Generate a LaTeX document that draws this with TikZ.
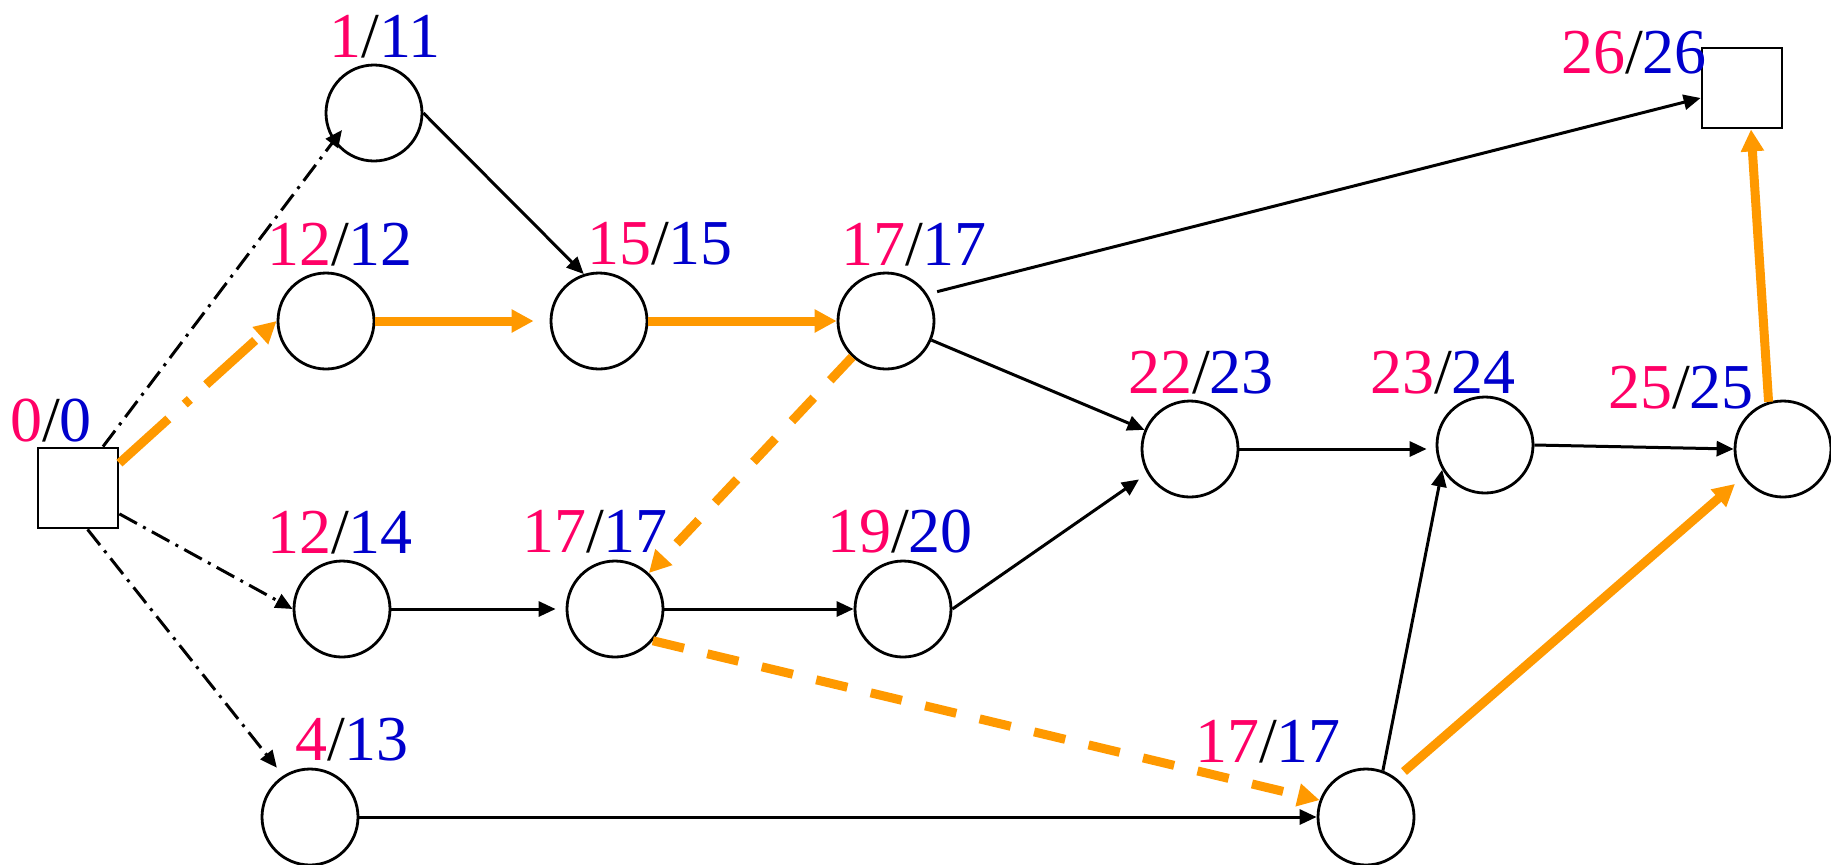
\documentclass[tikz,border=0pt]{standalone}
\usepackage{fontspec}
\setmainfont{Liberation Serif}
\usepackage{tikz}
\usetikzlibrary{arrows.meta,calc}
\definecolor{early}{HTML}{FF0066}
\definecolor{late}{HTML}{0000CC}
\definecolor{critorange}{HTML}{FF9900}
\newcommand{\evt}[2]{\textcolor{early}{#1}/\textcolor{late}{#2}}

\begin{document}
\begin{tikzpicture}[x=0.5pt,y=-0.5pt,
event/.style={circle,draw,line width=1.4pt,minimum size=48pt,inner sep=0pt},
term/.style={rectangle,draw,line width=1.4pt,minimum size=40pt,inner sep=0pt},
times/.style={anchor=base,inner sep=0pt,font=\fontsize{32}{38}\selectfont},
act/.style={line width=1.5pt,-{Triangle[length=8.5pt,width=7.5pt]}},
dum/.style={act,dash pattern=on 10pt off 3.5pt on 1.5pt off 3.5pt},
critact/.style={line width=4.5pt,critorange,-{Triangle[length=11pt,width=11pt]}},
critdum/.style={critact,dash pattern=on 33pt off 11pt on 3.5pt off 11pt},
critdash/.style={critact,dash pattern=on 16pt off 12pt}]
\useasboundingbox (0,0) rectangle (1831,864);
% events
\node[term]  (s)   at (78,488)   {};
\node[term]  (e)   at (1742,88)  {};
\node[event] (n1)  at (374,113)  {};
\node[event] (n12) at (326,321)  {};
\node[event] (n15) at (599,321)  {};
\node[event] (t17) at (886,321)  {};
\node[event] (n22) at (1190,449) {};
\node[event] (n23) at (1485,445) {};
\node[event] (n25) at (1783,449) {};
\node[event] (n14) at (342,609)  {};
\node[event] (m17) at (615,609)  {};
\node[event] (n19) at (903,609)  {};
\node[event] (n4)  at (310,817)  {};
\node[event] (b17) at (1366,817) {};
% early/late times
\node[times] (ls)   at (51,441)   {\evt{0}{0}};
\node[times] (le)   at (1634,73)  {\evt{26}{26}};
\node[times] (l1)   at (385,57)   {\evt{1}{11}};
\node[times] (l12)  at (340,265)  {\evt{12}{12}};
\node[times] (l15)  at (660,264)  {\evt{15}{15}};
\node[times] (lt17) at (914,265)  {\evt{17}{17}};
\node[times] (l22)  at (1201,393) {\evt{22}{23}};
\node[times] (l23)  at (1443,393) {\evt{23}{24}};
\node[times] (l25)  at (1681,408) {\evt{25}{25}};
\node[times] (l14)  at (340,553)  {\evt{12}{14}};
\node[times] (lm17) at (595,552)  {\evt{17}{17}};
\node[times] (l19)  at (900,552)  {\evt{19}{20}};
\node[times] (l4)   at (352,760)  {\evt{4}{13}};
\node[times] (lb17) at (1268,762) {\evt{17}{17}};
% dummy activities
\draw[dum] ([xshift=12.5pt]s.north) -- ($(n1)+(-32,17)$);
\draw[dum] (s.-32) -- (n14.west);
\draw[dum,shorten >=5pt] (s.-77) -- (n4.123);
% activities
\draw[act] (n1.east) -- (n15.108);
\draw[act,shorten <=5pt] (t17.33) -- ([yshift=-5pt]e.west);
\draw[act] (t17) -- (n22);
\draw[act,shorten >=5pt] (n19.east) -- (n22.210);
\draw[act,shorten >=4.5pt] (n22.east) -- (n22.east -| n23.west);
\draw[act] (n23.east) -- (n25.west);
\draw[act,shorten >=5pt] (n14.east) -- (m17.west);
\draw[act] (m17.east) -- (n19.west);
\draw[act] (n4.east) -- (b17.west);
\draw[act] (b17.70) -- (n23.210);
% critical path
\draw[critdum] (s.31) -- (n12.west);
\draw[critact,shorten >=8pt] (n12.east) -- (n15.west);
\draw[critact] (n15.east) -- (t17.west);
\draw[critdash] (t17) -- (m17);
\draw[critdash] (m17.-40) -- (b17.160);
\draw[critact,shorten <=5pt,shorten >=5pt] (b17.52) -- (n25.215);
\draw[critact] (n25.107) -- ([xshift=4.5pt]e.south);
\end{tikzpicture}
\end{document}
